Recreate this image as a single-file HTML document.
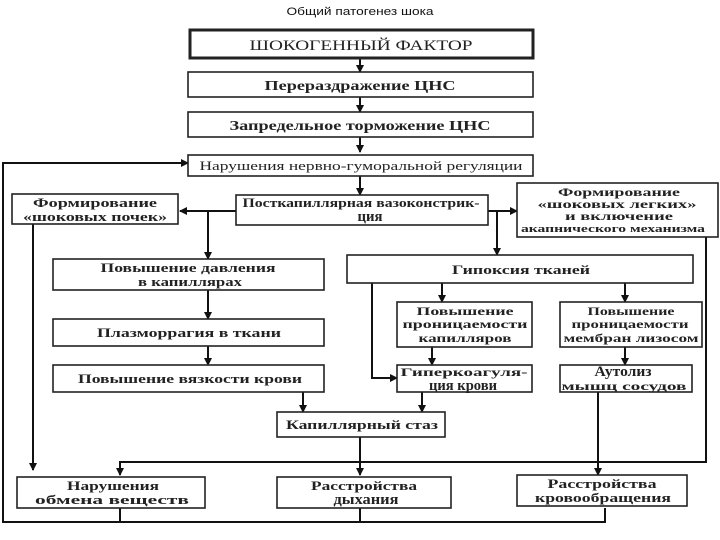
<!DOCTYPE html>
<html><head><meta charset="utf-8"><style>
html,body{margin:0;padding:0;background:#fff;width:720px;height:540px;overflow:hidden}
text{font-family:"Liberation Serif","DejaVu Serif",serif;font-weight:bold;fill:#222;text-anchor:middle}
.t{font-family:"Liberation Sans","DejaVu Sans",sans-serif;font-weight:normal;font-size:11px;fill:#111}
rect{fill:#fff;stroke:#222;stroke-width:1.6}
line,polyline{stroke:#111;stroke-width:2;fill:none}
</style></head><body>
<svg width="720" height="540" viewBox="0 0 720 540" xmlns="http://www.w3.org/2000/svg">
<defs><marker id="a" markerWidth="8" markerHeight="8" refX="7" refY="4" orient="auto" markerUnits="userSpaceOnUse"><path d="M0,0 L8,4 L0,8 z" fill="#111"/></marker></defs>
<text class="t" x="360" y="15" textLength="147" lengthAdjust="spacingAndGlyphs">Общий патогенез шока</text>
<line x1="360" y1="58" x2="360" y2="72" marker-end="url(#a)"/>
<line x1="360" y1="97" x2="360" y2="112" marker-end="url(#a)"/>
<line x1="360" y1="137" x2="360" y2="152" marker-end="url(#a)"/>
<line x1="360" y1="176" x2="360" y2="195" marker-end="url(#a)"/>
<line x1="236" y1="211" x2="180" y2="211" marker-end="url(#a)"/>
<line x1="208" y1="211" x2="208" y2="259" marker-end="url(#a)"/>
<line x1="488" y1="211" x2="517" y2="211" marker-end="url(#a)"/>
<line x1="497" y1="211" x2="497" y2="255" marker-end="url(#a)"/>
<line x1="33" y1="224" x2="33" y2="470" marker-end="url(#a)"/>
<polyline points="706,237 706,462 120,462 120,475" marker-end="url(#a)"/>
<line x1="208" y1="290" x2="208" y2="319" marker-end="url(#a)"/>
<line x1="208" y1="346" x2="208" y2="365" marker-end="url(#a)"/>
<line x1="303" y1="392" x2="303" y2="412" marker-end="url(#a)"/>
<polyline points="372,283 372,378 397,378" marker-end="url(#a)"/>
<line x1="442" y1="283" x2="442" y2="302" marker-end="url(#a)"/>
<line x1="625" y1="283" x2="625" y2="302" marker-end="url(#a)"/>
<line x1="432" y1="347" x2="432" y2="365" marker-end="url(#a)"/>
<line x1="625" y1="347" x2="625" y2="365" marker-end="url(#a)"/>
<line x1="422" y1="392" x2="422" y2="412" marker-end="url(#a)"/>
<line x1="360" y1="437" x2="360" y2="475" marker-end="url(#a)"/>
<line x1="598" y1="392" x2="598" y2="475" marker-end="url(#a)"/>
<polyline points="120,508 120,522"/>
<polyline points="360,508 360,522"/>
<polyline points="605,508 605,522 3,522 3,163 188,163" marker-end="url(#a)"/>
<rect x="190" y="30" width="343" height="28" style="stroke-width:3"/>
<text x="361" y="50" font-size="15" style="font-weight:normal" textLength="223" lengthAdjust="spacingAndGlyphs">ШОКОГЕННЫЙ ФАКТОР</text>
<rect x="188" y="72" width="345" height="25"/>
<text x="360" y="90" font-size="14" textLength="191" lengthAdjust="spacingAndGlyphs">Перераздражение ЦНС</text>
<rect x="188" y="112" width="345" height="25"/>
<text x="360" y="130" font-size="14" textLength="261" lengthAdjust="spacingAndGlyphs">Запредельное торможение ЦНС</text>
<rect x="188" y="155" width="345" height="21"/>
<text x="361" y="170" font-size="13" style="font-weight:normal" textLength="323" lengthAdjust="spacingAndGlyphs">Нарушения нервно-гуморальной регуляции</text>
<rect x="12" y="194" width="166" height="30"/>
<text x="95" y="207" font-size="12.5" textLength="124" lengthAdjust="spacingAndGlyphs">Формирование</text><text x="95" y="221" font-size="12.5" textLength="144" lengthAdjust="spacingAndGlyphs">«шоковых почек»</text>
<rect x="236" y="195" width="252" height="30"/>
<text x="361" y="207" font-size="12.5" textLength="237" lengthAdjust="spacingAndGlyphs">Посткапиллярная вазоконстрик-</text><text x="370" y="221" font-size="15" textLength="25" lengthAdjust="spacingAndGlyphs">ция</text>
<rect x="517" y="183" width="201" height="54"/>
<text x="619" y="196" font-size="12" textLength="122" lengthAdjust="spacingAndGlyphs">Формирование</text><text x="617" y="208" font-size="12" textLength="159" lengthAdjust="spacingAndGlyphs">«шоковых легких»</text><text x="619" y="220" font-size="12" textLength="108" lengthAdjust="spacingAndGlyphs">и включение</text><text x="613" y="232" font-size="11" textLength="184" lengthAdjust="spacingAndGlyphs">акапнического механизма</text>
<rect x="53" y="259" width="271" height="31"/>
<text x="188" y="272" font-size="12.5" textLength="175" lengthAdjust="spacingAndGlyphs">Повышение давления</text><text x="190" y="286" font-size="12.5" textLength="104" lengthAdjust="spacingAndGlyphs">в капиллярах</text>
<rect x="347" y="255" width="346" height="28"/>
<text x="521" y="274" font-size="12.5" textLength="138" lengthAdjust="spacingAndGlyphs">Гипоксия тканей</text>
<rect x="53" y="319" width="271" height="27"/>
<text x="189" y="337" font-size="12.5" textLength="184" lengthAdjust="spacingAndGlyphs">Плазморрагия в ткани</text>
<rect x="53" y="365" width="271" height="27"/>
<text x="190" y="383" font-size="12.5" textLength="224" lengthAdjust="spacingAndGlyphs">Повышение вязкости крови</text>
<rect x="397" y="302" width="135" height="45"/>
<text x="465" y="315" font-size="12" textLength="97" lengthAdjust="spacingAndGlyphs">Повышение</text><text x="465" y="328" font-size="12" textLength="125" lengthAdjust="spacingAndGlyphs">проницаемости</text><text x="465" y="342" font-size="12" textLength="93" lengthAdjust="spacingAndGlyphs">капилляров</text>
<rect x="560" y="302" width="142" height="45"/>
<text x="631" y="315" font-size="12" textLength="87" lengthAdjust="spacingAndGlyphs">Повышение</text><text x="630" y="328" font-size="12" textLength="117" lengthAdjust="spacingAndGlyphs">проницаемости</text><text x="631" y="342" font-size="12" textLength="135" lengthAdjust="spacingAndGlyphs">мембран лизосом</text>
<rect x="397" y="365" width="135" height="27"/>
<text x="464" y="376" font-size="12" textLength="127" lengthAdjust="spacingAndGlyphs">Гиперкоагуля-</text><text x="463" y="390" font-size="15" textLength="68" lengthAdjust="spacingAndGlyphs">ция крови</text>
<rect x="560" y="365" width="132" height="27"/>
<text x="623" y="376" font-size="15" textLength="57" lengthAdjust="spacingAndGlyphs">Аутолиз</text><text x="624" y="390" font-size="12" textLength="125" lengthAdjust="spacingAndGlyphs">мышц сосудов</text>
<rect x="277" y="412" width="168" height="25"/>
<text x="362" y="429" font-size="12.5" textLength="152" lengthAdjust="spacingAndGlyphs">Капиллярный стаз</text>
<rect x="17" y="477" width="188" height="31"/>
<text x="113" y="490" font-size="12.5" textLength="92" lengthAdjust="spacingAndGlyphs">Нарушения</text><text x="112" y="504" font-size="12.5" textLength="154" lengthAdjust="spacingAndGlyphs">обмена веществ</text>
<rect x="277" y="477" width="174" height="31"/>
<text x="364" y="490" font-size="12.5" textLength="106" lengthAdjust="spacingAndGlyphs">Расстройства</text><text x="366" y="504" font-size="15" textLength="65" lengthAdjust="spacingAndGlyphs">дыхания</text>
<rect x="517" y="475" width="170" height="31"/>
<text x="602" y="488" font-size="12.5" textLength="109" lengthAdjust="spacingAndGlyphs">Расстройства</text><text x="603" y="502" font-size="12.5" textLength="136" lengthAdjust="spacingAndGlyphs">кровообращения</text>
</svg>
</body></html>
